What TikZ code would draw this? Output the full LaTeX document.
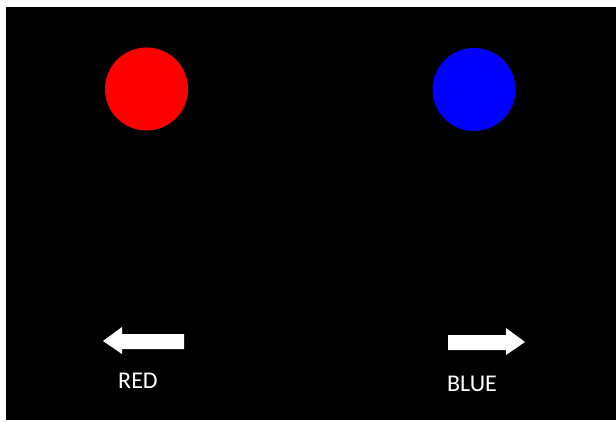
\documentclass[tikz,border=0pt]{standalone}
\usepackage{fontspec}
\setmainfont{Carlito}
\begin{document}
\begin{tikzpicture}[x=1pt,y=-1pt,
  dot/.style={circle,minimum size=83pt,inner sep=0pt},
  label/.style={text=white,font=\fontsize{24}{24}\selectfont,inner sep=0pt},
  arrowshape/.style={fill=white,draw=none}]
  % page and black panel
  \fill[white] (0,0) rectangle (616,422);
  \fill[black] (6,7) rectangle (616,420);
  \useasboundingbox (0,0) rectangle (616,422);
  % coloured dots
  \node[dot,fill={rgb,255:red,255;green,0;blue,0}] (red) at (146.5,89) {};
  \node[dot,fill={rgb,255:red,0;green,0;blue,255}] (blue) at (474,89.5) {};
  % left arrow
  \fill[arrowshape] (103,341) -- (122,327) -- (122,334) -- (184,334) -- (184,349)
    -- (122,349) -- (122,354) -- cycle;
  % right arrow
  \fill[arrowshape] (525,342) -- (506,328) -- (506,335) -- (448,335) -- (448,350)
    -- (506,350) -- (506,355) -- cycle;
  % captions
  \node[label] (redtext) at (138,381) {RED};
  \node[label] (bluetext) at (472,384) {BLUE};
\end{tikzpicture}
\end{document}
